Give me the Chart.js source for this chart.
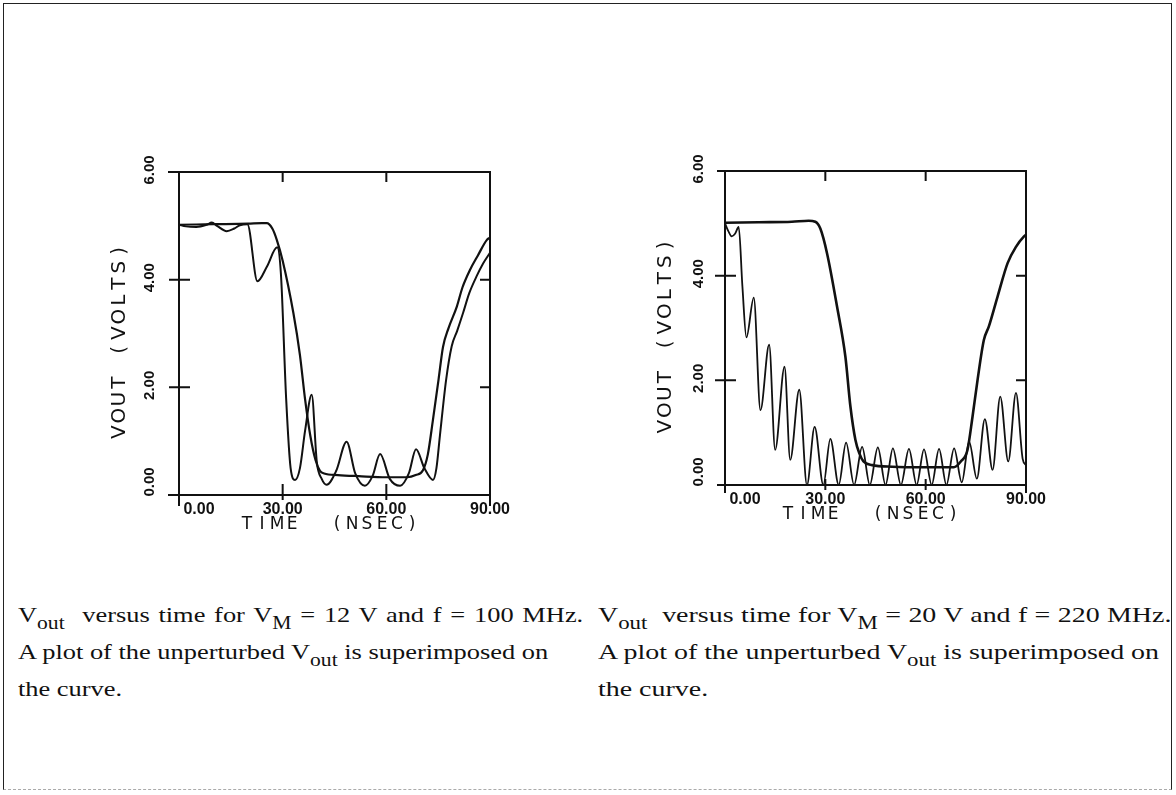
<!DOCTYPE html>
<html>
<head>
<meta charset="utf-8">
<script src="https://cdn.jsdelivr.net/npm/chart.js@4.4.0/dist/chart.umd.min.js"></script>
<style>
  body { margin: 0; background: #fff; }
  #page { position: relative; width: 1176px; height: 795px; overflow: hidden; background: #fff; }
  .frame { position: absolute; left: 3px; top: 3px; width: 1167px; height: 785px;
           border: 1.5px solid #222; border-bottom: 1px dashed #aaa; }
  .plot { position: absolute; top: 130px; width: 440px; height: 440px; }
  .cap { position: absolute; top: 597px; font-family: "Liberation Serif", serif; font-size: 22px;
         line-height: 35px; color: #111; white-space: nowrap; transform-origin: 0 0; }
  .s { position: relative; top: 7px; font-size: 18px; }
</style>
</head>
<body>
<div id="page">
  <div class="frame"></div>
  <canvas id="left" class="plot" width="440" height="440" style="left:90px"></canvas>
  <canvas id="right" class="plot" width="440" height="440" style="left:640px"></canvas>
  <div class="cap" style="left:18px; transform: scaleX(1.2)"><span style="word-spacing:1.8px">V<span class="s">out</span>&nbsp; versus time for V<span class="s">M</span> = 12 V and f = 100 MHz.</span><br>A plot of the unperturbed V<span class="s">out</span> is superimposed on<br>the curve.</div>
  <div class="cap" style="left:598px; transform: scaleX(1.27)"><span style="word-spacing:0.3px">V<span class="s">out</span>&nbsp; versus time for V<span class="s">M</span> = 20 V and f = 220 MHz.</span><br>A plot of the unperturbed V<span class="s">out</span> is superimposed on<br>the curve.</div>
</div>
<script>
  // axis ticks
  const tickT = [0, 30, 60, 90];
  const tickV = [0, 2, 4, 6];
  const tickTLabels = ['0.00', '30.00', '60.00', '90.00'];
  const tickVLabels = ['0.00', '2.00', '4.00', '6.00'];

  // left plot: VM = 12 V, f = 100 MHz
  const leftUnpertT = [0, 10, 20, 24, 25.4, 27, 28.3, 30, 33.1, 35, 36.5, 38, 39.5, 40.8, 42, 46, 52, 60, 66, 68.5, 70.6, 72, 73.5, 75.1, 76.4, 78, 80.4, 82, 84.2, 86.5, 89.1, 90];
  const leftUnpertV = [5.02, 5.03, 5.04, 5.05, 5.05, 4.95, 4.74, 4.35, 3.38, 2.6, 1.77, 1.1, 0.65, 0.45, 0.4, 0.37, 0.35, 0.33, 0.33, 0.37, 0.46, 0.75, 1.4, 2.14, 2.75, 3.1, 3.5, 3.85, 4.18, 4.45, 4.74, 4.78];
  const leftPertT = [0, 2, 5, 8, 9.5, 11, 13.8, 16, 17.6, 19.8, 22.7, 25.5, 28.4, 29.5, 31, 32.3, 33.6, 35, 36.5, 38.4, 39.9, 41.3, 42.7, 45.5, 48.5, 51, 53.8, 56, 58.2, 61, 64, 66.5, 68.6, 71, 73.5, 74.5, 75.5, 77.3, 78.9, 80.5, 82.2, 84, 86.1, 88, 90];
  const leftPertV = [5.02, 4.99, 4.98, 5.02, 5.06, 5.0, 4.9, 4.95, 5.01, 5.03, 3.97, 4.25, 4.6, 4.1, 1.8, 0.5, 0.28, 0.5, 1.2, 1.86, 0.6, 0.3, 0.19, 0.45, 0.99, 0.4, 0.17, 0.35, 0.76, 0.3, 0.17, 0.4, 0.85, 0.5, 0.28, 0.5, 1.1, 2.14, 2.76, 3.05, 3.38, 3.75, 4.06, 4.3, 4.5];

  // right plot: VM = 20 V, f = 220 MHz
  const rightUnpertT = [0, 10, 20, 25, 27, 28.5, 30.5, 33.5, 36, 37.5, 39, 40.2, 41.4, 44, 50, 60, 68.4, 70.5, 72.5, 74, 75.5, 77.4, 78.9, 81.5, 84.5, 87, 89.4, 90];
  const rightUnpertV = [5.01, 5.02, 5.03, 5.05, 5.03, 4.9, 4.43, 3.41, 2.45, 1.5, 0.86, 0.6, 0.45, 0.38, 0.35, 0.34, 0.34, 0.45, 0.67, 1.3, 2.0, 2.77, 3.03, 3.6, 4.24, 4.55, 4.75, 4.78];
  const rightPertT = [0, 1, 2, 3, 4.1, 5.2, 6.4, 8.6, 10.6, 13.2, 15, 17.8, 19.5, 22.2, 24.5, 26.8, 29.4, 31.5, 34, 36.2, 38.6, 41, 43.3, 45.7, 48, 50.2, 52.6, 55, 57.3, 59.5, 61.8, 64, 66.2, 68.5, 70.8, 73, 75.3, 77.7, 80, 82.3, 84.7, 87, 89, 90];
  const rightPertV = [5.0, 4.85, 4.75, 4.8, 4.93, 3.8, 2.82, 3.58, 1.43, 2.68, 0.67, 2.26, 0.48, 1.82, 0.0, 1.11, 0.0, 0.88, 0.0, 0.81, 0.0, 0.73, 0.0, 0.72, 0.0, 0.7, 0.0, 0.69, 0.0, 0.68, 0.0, 0.69, 0.0, 0.7, 0.05, 0.83, 0.12, 1.26, 0.29, 1.69, 0.45, 1.76, 0.5, 0.38];

  const pts = (t, v) => t.map((x, i) => ({ x: x, y: v[i] }));

  // draw a string one glyph at a time, plotter style
  function spaced(ctx, str, step) {
    const w = step * str.length;
    for (let i = 0; i < str.length; i++) {
      ctx.fillText(str[i], -w / 2 + step * (i + 0.5), 0);
    }
  }

  const axesFrame = {
    id: 'axesFrame',
    afterDatasetsDraw(chart, args, o) {
      const ctx = chart.ctx, xs = chart.scales.x, ys = chart.scales.y;
      const L = xs.getPixelForValue(0), R = xs.getPixelForValue(90);
      const T = ys.getPixelForValue(6), B = ys.getPixelForValue(0);
      ctx.save();
      ctx.strokeStyle = '#111';
      ctx.lineWidth = 2;
      ctx.beginPath();
      ctx.moveTo(L - o.ext, T); ctx.lineTo(R, T); ctx.lineTo(R, B + o.ext);
      ctx.moveTo(L - o.ext, B); ctx.lineTo(R, B);
      ctx.moveTo(L, T); ctx.lineTo(L, B + o.ext);
      [2, 4].forEach(v => {
        const py = ys.getPixelForValue(v);
        ctx.moveTo(L - 10, py); ctx.lineTo(L + 11, py);
        ctx.moveTo(R - 10, py); ctx.lineTo(R, py);
      });
      [30, 60].forEach(t => {
        const px = xs.getPixelForValue(t);
        ctx.moveTo(px, T); ctx.lineTo(px, T + 10);
        ctx.moveTo(px, B - o.tbIn); ctx.lineTo(px, B + o.tbOut);
      });
      ctx.stroke();

      ctx.fillStyle = '#111';
      ctx.textAlign = 'center';
      ctx.textBaseline = 'middle';
      // x tick labels
      ctx.font = 'bold 16px "Liberation Sans"';
      tickT.forEach((t, i) => {
        const px = xs.getPixelForValue(t) + (t === 0 ? 20 : 0);
        ctx.fillText(tickTLabels[i], px, B + o.xlab);
      });
      // y tick labels, rotated
      ctx.font = 'bold 15px "Liberation Sans"';
      tickV.forEach((v, i) => {
        const py = ys.getPixelForValue(v) - (v === 0 ? 13 : 2);
        ctx.save();
        ctx.translate(L - o.ylab, py);
        ctx.rotate(-Math.PI / 2);
        ctx.fillText(tickVLabels[i], 0, 0);
        ctx.restore();
      });
      // axis titles
      ctx.font = '20px "DejaVu Sans"';
      ctx.save();
      ctx.translate(L - o.ytitle, (T + B) / 2 + 8);
      ctx.rotate(-Math.PI / 2);
      spaced(ctx, 'VOUT (VOLTS)', 16.5);
      ctx.restore();
      ctx.font = '17px "DejaVu Sans"';
      ctx.save();
      ctx.translate((L + R) / 2 - 5, B + o.xtitle);
      spaced(ctx, 'TIME  (NSEC)', 15);
      ctx.restore();
      ctx.restore();
    }
  };

  function makePlot(id, series, pad, frameOpts) {
    return new Chart(document.getElementById(id), {
      type: 'line',
      data: {
        datasets: series.map(s => ({
          data: pts(s.t, s.v),
          borderColor: '#111',
          borderWidth: s.w,
          pointRadius: 0,
          cubicInterpolationMode: 'monotone',
          fill: false
        }))
      },
      options: {
        responsive: false,
        animation: false,
        layout: { padding: pad },
        plugins: { legend: { display: false }, tooltip: { enabled: false }, axesFrame: frameOpts },
        scales: {
          x: { type: 'linear', min: 0, max: 90, display: false },
          y: { type: 'linear', min: 0, max: 6, display: false }
        }
      },
      plugins: [axesFrame]
    });
  }

  makePlot('left', [
    { t: leftUnpertT, v: leftUnpertV, w: 2.2 },
    { t: leftPertT, v: leftPertV, w: 2 }
  ], { left: 89, top: 42, right: 40, bottom: 75 },
  { ext: 11, tbIn: 11, tbOut: 5, xlab: 15, ylab: 29, ytitle: 59, xtitle: 30 });

  makePlot('right', [
    { t: rightUnpertT, v: rightUnpertV, w: 2.6 },
    { t: rightPertT, v: rightPertV, w: 1.8 }
  ], { left: 85, top: 41, right: 54, bottom: 85 },
  { ext: 8, tbIn: 6, tbOut: 5, xlab: 15, ylab: 26, ytitle: 59, xtitle: 30 });
</script>
</body>
</html>
